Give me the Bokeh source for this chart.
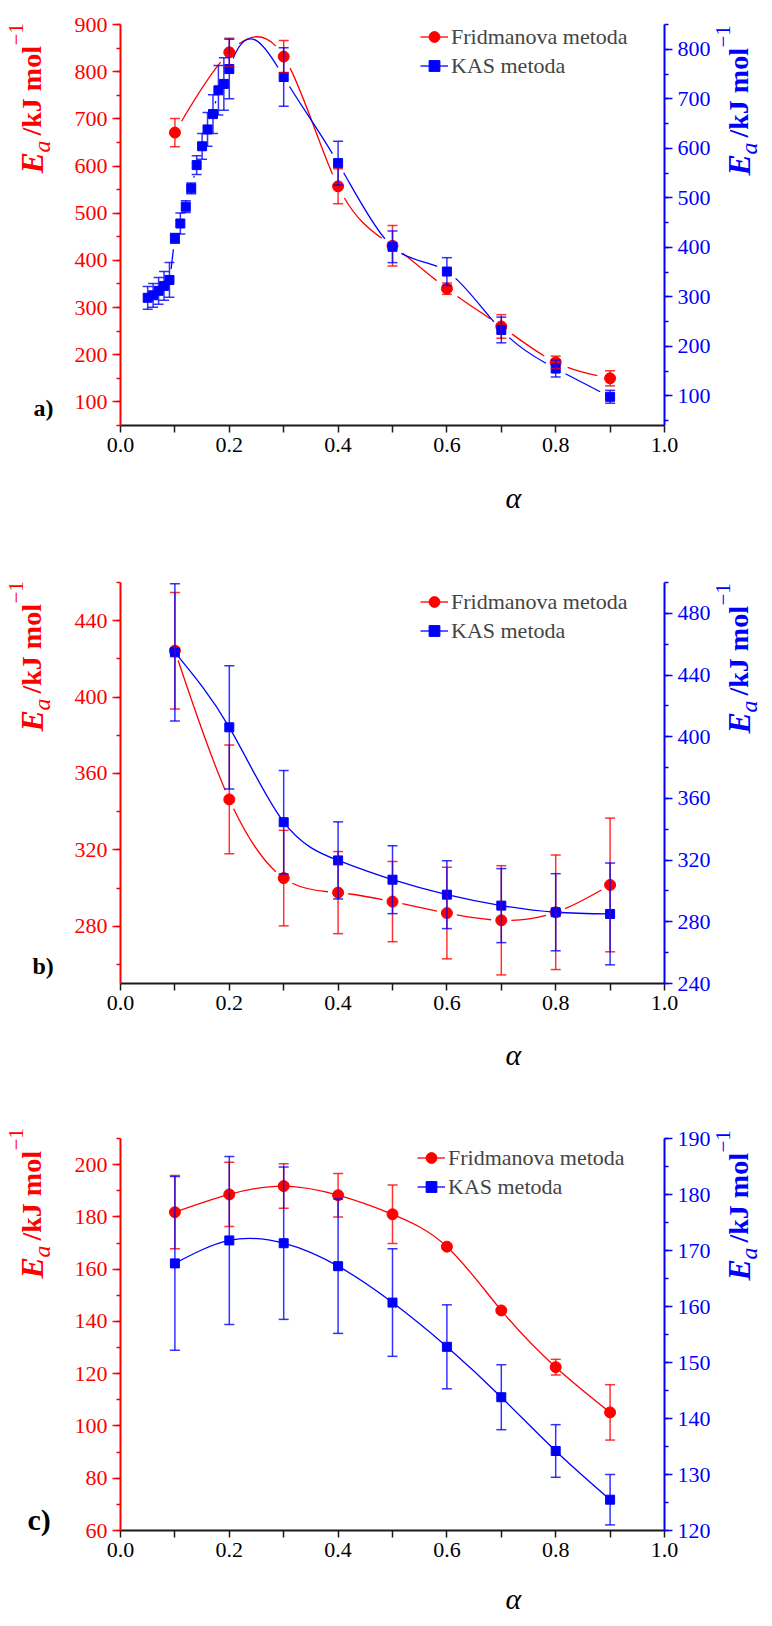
import numpy as np
from bokeh.plotting import figure
from bokeh.models import (Range1d, LinearAxis, SingleIntervalTicker, FixedTicker,
                          PrintfTickFormatter, Whisker, TeeHead, ColumnDataSource,
                          Label, Legend, LegendItem)
from bokeh.layouts import column
from bokeh.embed import file_html
from bokeh.resources import INLINE

# ---------------- data ----------------
# panel a
fr_a_alpha = [0.1, 0.2, 0.3, 0.4, 0.5, 0.6, 0.7, 0.8, 0.9]
fr_a_ea = [671, 841, 832, 557, 431, 340, 260, 184, 150]
fr_a_err = [30, 30, 34, 37, 43, 12, 25, 13, 16]
kas_a_alpha = [0.05, 0.06, 0.07, 0.08, 0.09, 0.10, 0.11, 0.12, 0.13, 0.14, 0.15, 0.16,
               0.17, 0.18, 0.19, 0.20, 0.3, 0.4, 0.5, 0.6, 0.7, 0.8, 0.9]
kas_a_ea = [298, 303, 312, 322, 334, 418, 448, 482, 519, 566, 604, 638,
            669, 717, 730, 760, 744, 570, 401, 351, 233, 155, 98]
kas_a_err = [23, 24, 27, 29, 35, 10, 21, 12, 11, 19, 26, 34,
             39, 50, 53, 60, 59, 44, 32, 28, 26, 17, 13]

# panel b
fr_b_alpha = [0.1, 0.2, 0.3, 0.4, 0.5, 0.6, 0.7, 0.8, 0.9]
fr_b_ea = [424.3, 346.4, 305.2, 297.6, 292.9, 286.9, 283.1, 287.3, 301.6]
fr_b_err = [30.5, 28.5, 25, 21.5, 21, 24, 28.6, 30, 35]
kas_b_alpha = [0.1, 0.2, 0.3, 0.4, 0.5, 0.6, 0.7, 0.8, 0.9]
kas_b_ea = [454.7, 406.1, 344.6, 319.8, 307.3, 297.6, 290.5, 286.2, 285.1]
kas_b_err = [44.5, 40, 33.5, 25, 22, 22, 24, 25, 33]

# panel c
fr_c_alpha = [0.1, 0.2, 0.3, 0.4, 0.5, 0.6, 0.7, 0.8, 0.9]
fr_c_ea = [181.8, 188.6, 191.8, 188.3, 181.0, 168.6, 144.2, 122.5, 105.2]
fr_c_err = [14, 12.3, 8.5, 8.3, 11.2, 0.5, 0.5, 3, 10.6]
kas_c_alpha = [0.1, 0.2, 0.3, 0.4, 0.5, 0.6, 0.7, 0.8, 0.9]
kas_c_ea = [167.7, 171.8, 171.3, 167.2, 160.7, 152.8, 143.8, 134.2, 125.5]
kas_c_err = [15.5, 15, 13.6, 12, 9.6, 7.5, 5.8, 4.7, 4.5]

x_ticks = [0.0, 0.2, 0.4, 0.6, 0.8, 1.0]
x_minor = [0.1, 0.3, 0.5, 0.7, 0.9]

legend_labels = ["Fridmanova metoda", "KAS metoda"]
panel_letters = ["a)", "b)", "c)"]

RED = "#ff0000"
BLUE = "#0000ff"
FONT = "Liberation Serif"
W = 772
FX0, FX1 = 120, 664   # pixel columns of alpha = 0 and alpha = 1


def spline_bezier(xs, ys):
    """Natural cubic spline through the points, expressed as Bezier segments."""
    x = np.asarray(xs, float)
    y = np.asarray(ys, float)
    n = len(x)
    h = np.diff(x)
    A = np.zeros((n, n))
    b = np.zeros(n)
    A[0, 0] = A[-1, -1] = 1.0
    for i in range(1, n - 1):
        A[i, i - 1] = h[i - 1]
        A[i, i] = 2 * (h[i - 1] + h[i])
        A[i, i + 1] = h[i]
        b[i] = 6 * ((y[i + 1] - y[i]) / h[i] - (y[i] - y[i - 1]) / h[i - 1])
    M = np.linalg.solve(A, b)
    s = np.diff(y) / h
    d0 = s - h * (2 * M[:-1] + M[1:]) / 6
    d1 = s + h * (M[:-1] + 2 * M[1:]) / 6
    return [np.array([[x[i], y[i]],
                      [x[i] + h[i] / 3, y[i] + d0[i] * h[i] / 3],
                      [x[i + 1] - h[i] / 3, y[i + 1] - d1[i] * h[i] / 3],
                      [x[i + 1], y[i + 1]]]) for i in range(n - 1)]


def split(P, t):
    p01 = (1 - t) * P[0] + t * P[1]
    p12 = (1 - t) * P[1] + t * P[2]
    p23 = (1 - t) * P[2] + t * P[3]
    p012 = (1 - t) * p01 + t * p12
    p123 = (1 - t) * p12 + t * p23
    p0123 = (1 - t) * p012 + t * p123
    return np.array([P[0], p01, p012, p0123]), np.array([p0123, p123, p23, P[3]])


def gapped(segs, gap, sx, sy):
    """Leave a gap of `gap` pixels around each marker, like the original line style."""
    cols = {k: [] for k in ("x0", "y0", "cx0", "cy0", "cx1", "cy1", "x1", "y1")}
    t = np.linspace(0, 1, 401)
    for P in segs:
        if gap > 0:
            Q = P * [sx, sy]
            B = (((1 - t) ** 3)[:, None] * Q[0] + (3 * (1 - t) ** 2 * t)[:, None] * Q[1]
                 + (3 * (1 - t) * t ** 2)[:, None] * Q[2] + (t ** 3)[:, None] * Q[3])
            d0 = np.hypot(*(B - Q[0]).T)
            d1 = np.hypot(*(B - Q[3]).T)
            ok = np.where((d0 >= gap) & (d1 >= gap))[0]
            if len(ok) < 2:
                continue
            ta, tb = t[ok[0]], t[ok[-1]]
            L, _ = split(P, tb)
            _, P = split(L, ta / tb)
        for k, (a, c) in zip(("x0", "cx0", "cx1", "x1"), ((0, 0), (1, 0), (2, 0), (3, 0))):
            cols[k].append(P[a, c])
        for k, a in zip(("y0", "cy0", "cy1", "y1"), (0, 1, 2, 3)):
            cols[k].append(P[a, 1])
    return cols


def extend(lo, hi, ptop, pbot, H):
    k = (hi - lo) / (pbot - ptop)
    return lo - (H - pbot) * k, hi + ptop * k


def make_panel(fr, kas, lrange, rrange, lint, rint, H, ptop, pbot, gaps,
               letter, letter_size, letter_dy, alpha_dy, legend_pos):
    fr_x, fr_y, fr_e = fr
    k_x, k_y, k_e = kas
    kx = 1.0 / (FX1 - FX0)
    xr = Range1d(-FX0 * kx, 1 + (W - FX1) * kx)
    yr = Range1d(*extend(lrange[0], lrange[1], ptop, pbot, H))
    p = figure(width=W, height=H, x_range=xr, y_range=yr, output_backend="svg",
               toolbar_location=None, x_axis_location=None, y_axis_location=None,
               min_border=0, min_border_left=0, min_border_right=0,
               min_border_top=0, min_border_bottom=0)
    p.extra_y_ranges = {"right": Range1d(*extend(rrange[0], rrange[1], ptop, pbot, H))}
    p.grid.visible = False
    p.outline_line_color = None
    p.background_fill_color = "white"
    p.border_fill_color = "white"

    # x axis
    xa = LinearAxis(fixed_location=lrange[0], bounds=(0, 1))
    xa.ticker = FixedTicker(ticks=x_ticks, minor_ticks=x_minor)
    xa.formatter = PrintfTickFormatter(format="%.1f")
    xa.axis_line_color = "#1a1a1a"
    xa.axis_line_width = 2
    xa.major_tick_line_color = "#1a1a1a"
    xa.minor_tick_line_color = "#1a1a1a"
    xa.major_tick_line_width = 1.5
    xa.minor_tick_line_width = 1.5
    xa.major_tick_in = 0
    xa.major_tick_out = 7
    xa.minor_tick_in = 0
    xa.minor_tick_out = 7
    xa.major_label_text_font = FONT
    xa.major_label_text_font_size = "22px"
    xa.major_label_text_color = "black"
    xa.major_label_standoff = 5
    p.add_layout(xa, "below")

    def style_y(ax, color, interval):
        ax.ticker = SingleIntervalTicker(interval=interval, num_minor_ticks=2)
        ax.axis_line_color = color
        ax.axis_line_width = 2
        ax.major_tick_line_color = color
        ax.minor_tick_line_color = color
        ax.major_tick_line_width = 1.5
        ax.minor_tick_line_width = 1.5
        ax.major_tick_in = 0
        ax.major_tick_out = 8
        ax.minor_tick_in = 0
        ax.minor_tick_out = 4
        ax.major_label_text_font = FONT
        ax.major_label_text_font_size = "22px"
        ax.major_label_text_color = color
        ax.major_label_standoff = 5

    la = LinearAxis(fixed_location=0, bounds=lrange)
    style_y(la, RED, lint)
    p.add_layout(la, "left")
    ra = LinearAxis(y_range_name="right", fixed_location=1, bounds=rrange)
    style_y(ra, BLUE, rint)
    p.add_layout(ra, "right")

    # spline curves (with gaps at the markers)
    sx = FX1 - FX0
    syl = (pbot - ptop) / (lrange[1] - lrange[0])
    syr = (pbot - ptop) / (rrange[1] - rrange[0])
    p.bezier(source=ColumnDataSource(gapped(spline_bezier(fr_x, fr_y), gaps[0], sx, syl)),
             x0="x0", y0="y0", x1="x1", y1="y1", cx0="cx0", cy0="cy0", cx1="cx1", cy1="cy1",
             line_color=RED, line_width=1.3)
    p.bezier(source=ColumnDataSource(gapped(spline_bezier(k_x, k_y), gaps[1], sx, syr)),
             x0="x0", y0="y0", x1="x1", y1="y1", cx0="cx0", cy0="cy0", cx1="cx1", cy1="cy1",
             line_color=BLUE, line_width=1.3, y_range_name="right")

    # error bars
    fr_src = ColumnDataSource(dict(x=fr_x, y=fr_y,
                                   upper=np.add(fr_y, fr_e), lower=np.subtract(fr_y, fr_e)))
    k_src = ColumnDataSource(dict(x=k_x, y=k_y,
                                  upper=np.add(k_y, k_e), lower=np.subtract(k_y, k_e)))
    for src, col, rn in ((fr_src, RED, "default"), (k_src, BLUE, "right")):
        w = Whisker(source=src, base="x", upper="upper", lower="lower",
                    line_color=col, line_width=1.5, line_alpha=0.8,
                    upper_head=TeeHead(size=10, line_color=col, line_width=1.5, line_alpha=0.8),
                    lower_head=TeeHead(size=10, line_color=col, line_width=1.5, line_alpha=0.8),
                    y_range_name=rn, level="glyph")
        p.add_layout(w)

    # markers
    sr = p.scatter("x", "y", source=fr_src, marker="circle", size=11,
                   fill_color=RED, line_color=RED)
    sb = p.scatter("x", "y", source=k_src, marker="square", size=9,
                   fill_color=BLUE, line_color=BLUE, y_range_name="right")

    # legend proxies (a single NaN point draws nothing in the plot)
    lr = p.line(x=[np.nan], y=[np.nan], line_color=RED, line_width=1.3)
    lb = p.line(x=[np.nan], y=[np.nan], line_color=BLUE, line_width=1.3)
    leg = Legend(items=[LegendItem(label=legend_labels[0], renderers=[lr, sr]),
                        LegendItem(label=legend_labels[1], renderers=[lb, sb])],
                 location=legend_pos, border_line_color=None,
                 background_fill_alpha=0, label_text_font=FONT,
                 label_text_font_size="22px", glyph_width=28, glyph_height=27,
                 spacing=2, label_standoff=3, padding=0, margin=0, label_height=22)
    p.add_layout(leg)

    base = H - pbot   # screen y of the frame bottom

    # axis titles (rotated, composed of pieces)
    def ytitle(bx, by, color):
        parts = [
            ("E", 0, 0, "32px", "bold italic"),
            ("a", 21, 10, "24px", "italic"),
            ("/kJ mol", 38, 0, "28px", "bold"),
            ("\u22121", 128, -16, "21px", "normal"),
        ]
        for txt, dy, dx, size, style in parts:
            p.add_layout(Label(x=bx + dx, y=by + dy, x_units="screen", y_units="screen",
                               text=txt, angle=np.pi / 2, text_font=FONT,
                               text_font_size=size, text_font_style=style,
                               text_color=color, text_align="left",
                               text_baseline="alphabetic"))

    ytitle(31, base + 252, RED)
    ytitle(738, base + 250, BLUE)

    p.add_layout(Label(x=0.7224, y=base + alpha_dy, x_units="data", y_units="screen",
                       text="\u03b1", text_font=FONT, text_font_size="30px",
                       text_font_style="italic", text_align="center",
                       text_baseline="alphabetic", text_color="black"))
    p.add_layout(Label(x=letter[0], y=base + letter_dy, x_units="screen", y_units="screen",
                       text=letter[1], text_font=FONT, text_font_size=letter_size,
                       text_font_style="bold", text_align="left",
                       text_baseline="alphabetic", text_color="black"))
    return p


pa = make_panel((fr_a_alpha, fr_a_ea, fr_a_err), (kas_a_alpha, kas_a_ea, kas_a_err),
                (50, 900), (40, 850), 100, 100, 565, 24, 425, (13, 11),
                (33, panel_letters[0]), "24px", 18, -72, (420, 486))
pb = make_panel((fr_b_alpha, fr_b_ea, fr_b_err), (kas_b_alpha, kas_b_ea, kas_b_err),
                (250, 460), (240, 500), 40, 40, 556, 17, 418, (10, 0),
                (32, panel_letters[1]), "24px", 18, -71, (420, 477))
pc = make_panel((fr_c_alpha, fr_c_ea, fr_c_err), (kas_c_alpha, kas_c_ea, kas_c_err),
                (60, 210), (120, 190), 20, 10, 500, 17, 409, (0, 0),
                (27, panel_letters[2]), "30px", 11, -68, (417, 421))

layout = column(pa, pb, pc, spacing=0)
open("out.html", "w").write(file_html(layout, INLINE))
